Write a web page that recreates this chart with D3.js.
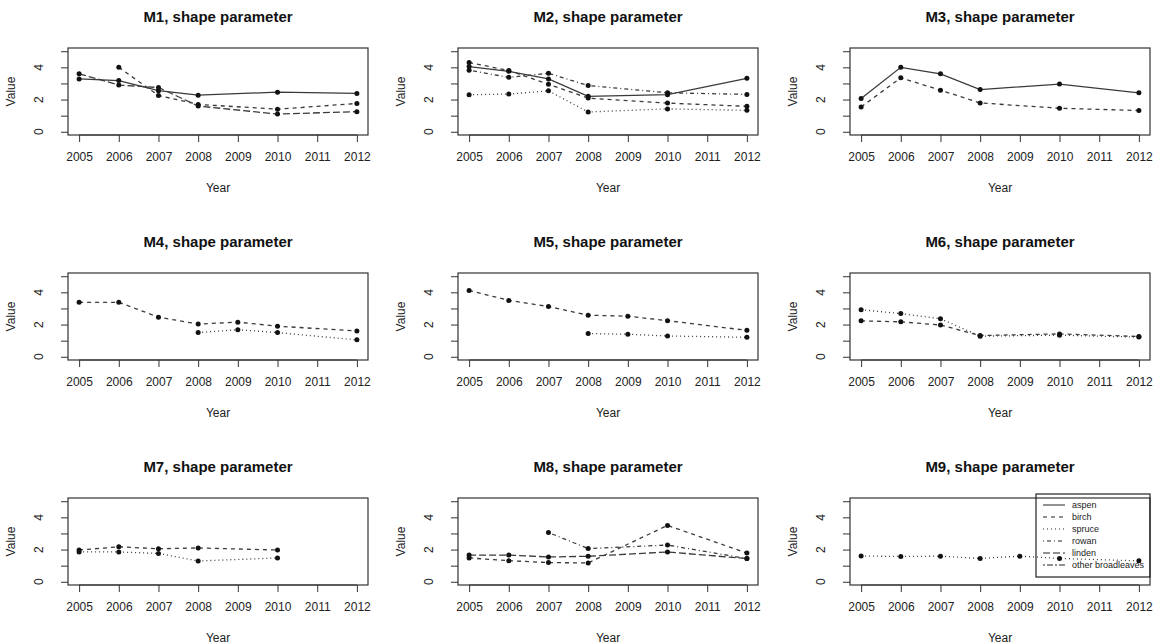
<!DOCTYPE html>
<html>
<head>
<meta charset="utf-8">
<script src="https://cdn.jsdelivr.net/npm/d3@7"></script>
<style>
  body { margin: 0; background: #fff; }
  svg text { font-family: "Liberation Sans", Arial, sans-serif; fill: #222; }
</style>
</head>
<body>
<div id="chart"></div>
<script>
// x ticks and the years that have observations
const tickYears = [2005, 2006, 2007, 2008, 2009, 2010, 2011, 2012];
const obsYears = [2005, 2006, 2007, 2008, 2009, 2010, 2012];
const yTicks = [0, 1, 2, 3, 4, 5];
const yLabels = [0, 2, 4];
const species = ["aspen", "birch", "spruce", "rowan", "linden", "other broadleaves"];
const panelTitles = ["M1", "M2", "M3", "M4", "M5", "M6", "M7", "M8", "M9"].map(m => m + ", shape parameter");

// values by obsYears, null = no data
const m1Aspen  = [3.28, 3.18, 2.55, 2.27, null, 2.46, 2.38];
const m1Birch  = [null, 4.0, 2.25, 1.7, null, 1.4, 1.76];
const m1Linden = [3.6, 2.9, 2.75, 1.6, null, 1.1, 1.25];

const m2Aspen  = [4.05, 3.75, 3.28, 2.2, null, 2.3, 3.32];
const m2Birch  = [4.3, 3.8, 2.95, 2.09, null, 1.78, 1.58];
const m2Spruce = [2.3, 2.34, 2.54, 1.23, null, 1.42, 1.33];
const m2Rowan  = [3.82, 3.38, 3.63, 2.87, null, 2.42, 2.32];

const m3Aspen  = [2.07, 4.0, 3.6, 2.62, null, 2.96, 2.42];
const m3Birch  = [1.54, 3.35, 2.58, 1.79, null, 1.46, 1.32];

const m4Birch  = [3.38, 3.38, 2.46, 2.03, 2.15, 1.9, 1.6];
const m4Spruce = [null, null, null, 1.5, 1.68, 1.5, 1.05];

const m5Birch  = [4.12, 3.5, 3.12, 2.58, 2.52, 2.24, 1.64];
const m5Spruce = [null, null, null, 1.44, 1.4, 1.29, 1.21];

const m6Birch  = [2.23, 2.17, 1.97, 1.32, null, 1.42, 1.26];
const m6Spruce = [2.92, 2.68, 2.36, 1.28, null, 1.34, 1.22];

const m7Birch  = [1.97, 2.17, 2.05, 2.1, null, 1.97, null];
const m7Spruce = [1.85, 1.85, 1.76, 1.29, null, 1.48, null];

const m8Birch  = [1.48, 1.31, 1.19, 1.17, null, 3.5, 1.78];
const m8Rowan  = [null, null, 3.06, 2.06, null, 2.28, 1.44];
const m8Linden = [1.66, 1.66, 1.54, 1.58, null, 1.85, 1.44];

const m9Spruce = [1.6, 1.57, 1.59, 1.45, 1.59, 1.45, 1.3];

const panels = [
  [["aspen", m1Aspen], ["birch", m1Birch], ["linden", m1Linden]],
  [["aspen", m2Aspen], ["birch", m2Birch], ["spruce", m2Spruce], ["rowan", m2Rowan]],
  [["aspen", m3Aspen], ["birch", m3Birch]],
  [["birch", m4Birch], ["spruce", m4Spruce]],
  [["birch", m5Birch], ["spruce", m5Spruce]],
  [["birch", m6Birch], ["spruce", m6Spruce]],
  [["birch", m7Birch], ["spruce", m7Spruce]],
  [["birch", m8Birch], ["rowan", m8Rowan], ["linden", m8Linden]],
  [["spruce", m9Spruce]]
];

// R line types
const dashes = {
  "aspen": null,
  "birch": "4,4",
  "spruce": "1,3",
  "rowan": "1,3,4,3",
  "linden": "7,3",
  "other broadleaves": "2,2,6,2"
};

const width = 1158, height = 644;
const colLeft = [68, 458, 850];
const rowTop = [48, 273, 498];
const boxW = 300, boxH = 87;

const svg = d3.select("#chart").append("svg")
  .attr("width", width)
  .attr("height", height);

const line = d3.line().x(d => d.x).y(d => d.y);

panels.forEach((series, i) => {
  const left = colLeft[i % 3];
  const top = rowTop[Math.floor(i / 3)];

  const x = d3.scaleLinear().domain([2004.72, 2012.28]).range([left, left + boxW]);
  const y = d3.scaleLinear().domain([-0.2, 5.2]).range([top + boxH, top]);

  const g = svg.append("g");

  // title
  g.append("text")
    .attr("x", left + boxW / 2)
    .attr("y", top - 26)
    .attr("text-anchor", "middle")
    .attr("font-size", 15)
    .attr("font-weight", "bold")
    .style("fill", "#111")
    .text(panelTitles[i]);

  // x axis
  const xAxis = g.append("g")
    .attr("transform", `translate(0,${top + boxH})`)
    .call(d3.axisBottom(x).tickValues(tickYears).tickFormat(d3.format("d")).tickSize(7).tickPadding(10));
  xAxis.select(".domain").remove();
  xAxis.append("line")
    .attr("x1", x(2005)).attr("x2", x(2012))
    .attr("stroke", "#333");
  xAxis.selectAll(".tick line").attr("stroke", "#333");
  xAxis.selectAll(".tick text").attr("font-size", 12).style("fill", "#222");

  // y axis
  const yAxis = g.append("g")
    .attr("transform", `translate(${left},0)`)
    .call(d3.axisLeft(y).tickValues(yTicks).tickFormat("").tickSize(7));
  yAxis.select(".domain").remove();
  yAxis.selectAll(".tick line").attr("stroke", "#333");
  g.selectAll(".ylab")
    .data(yLabels)
    .enter()
    .append("text")
    .attr("transform", d => `translate(${left - 25},${y(d)}) rotate(-90)`)
    .attr("text-anchor", "middle")
    .attr("font-size", 12)
    .text(d => d);

  // axis titles
  g.append("text")
    .attr("x", left + boxW / 2)
    .attr("y", top + boxH + 57)
    .attr("text-anchor", "middle")
    .attr("font-size", 12)
    .text("Year");
  g.append("text")
    .attr("transform", `translate(${left - 53},${top + boxH / 2}) rotate(-90)`)
    .attr("text-anchor", "middle")
    .attr("font-size", 12)
    .text("Value");

  // box
  g.append("rect")
    .attr("x", left).attr("y", top)
    .attr("width", boxW).attr("height", boxH)
    .attr("fill", "none")
    .attr("stroke", "#333")
    .attr("stroke-width", 1.2);

  // series
  series.forEach(([name, vals]) => {
    const pts = vals
      .map((v, k) => ({ x: x(obsYears[k]), y: v == null ? null : y(v) }))
      .filter(p => p.y != null);

    g.append("path")
      .attr("d", line(pts))
      .attr("fill", "none")
      .attr("stroke", "#3a3a3a")
      .attr("stroke-width", 1.3)
      .attr("stroke-dasharray", dashes[name]);

    g.selectAll(null)
      .data(pts)
      .enter()
      .append("circle")
      .attr("cx", d => d.x)
      .attr("cy", d => d.y)
      .attr("r", 2.5)
      .attr("fill", "#111");
  });

  // legend in the last panel
  if (i === 8) {
    const lg = g.append("g");
    const lx = 1036, ly = top - 4;
    lg.append("rect")
      .attr("x", lx).attr("y", ly)
      .attr("width", left + boxW - lx).attr("height", 83)
      .attr("fill", "none")
      .attr("stroke", "#222")
      .attr("stroke-width", 1.2);
    species.forEach((s, k) => {
      const yy = ly + 11 + k * 12;
      lg.append("line")
        .attr("x1", lx + 7).attr("x2", lx + 29)
        .attr("y1", yy).attr("y2", yy)
        .attr("stroke", "#222")
        .attr("stroke-dasharray", dashes[s]);
      lg.append("text")
        .attr("x", lx + 36)
        .attr("y", yy + 3)
        .attr("font-size", 9)
        .text(s);
    });
  }
});
</script>
</body>
</html>
